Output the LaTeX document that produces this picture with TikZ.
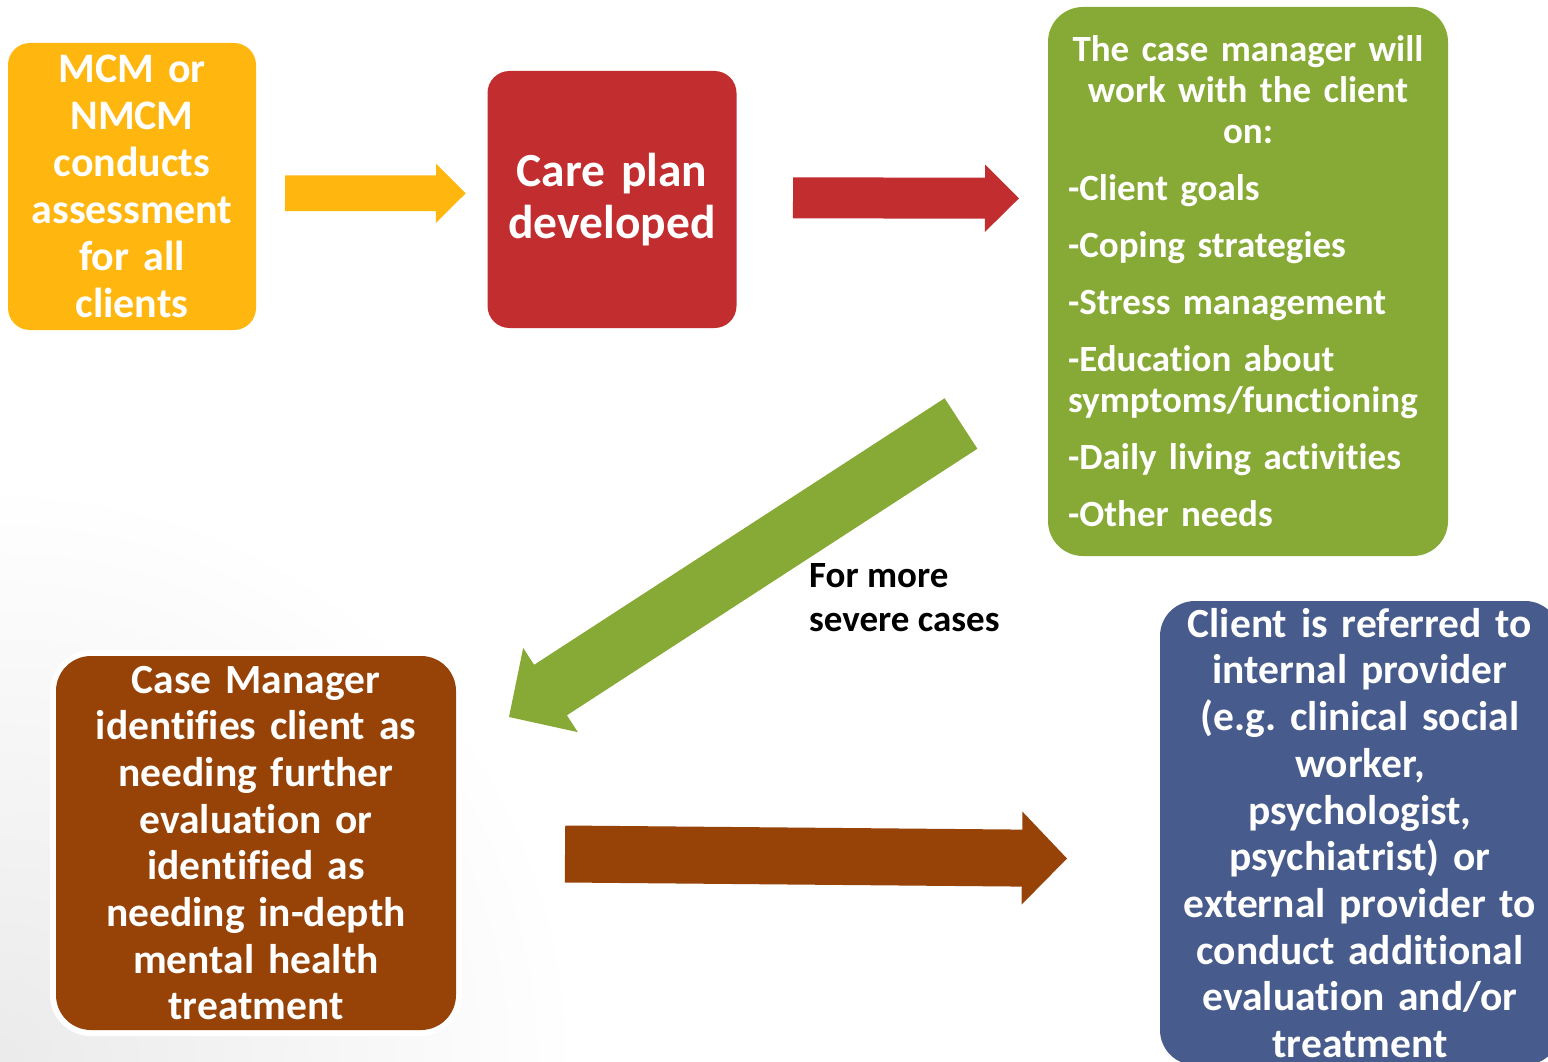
\documentclass[tikz,border=0pt]{standalone}
\usepackage{fontspec}
\setmainfont{Carlito}[Ligatures={NoCommon}]
\usetikzlibrary{calc}

\definecolor{stepyellow}{HTML}{FFB60F}
\definecolor{stepred}{HTML}{C22D2F}
\definecolor{stepgreen}{HTML}{86AA35}
\definecolor{stepbrown}{HTML}{974206}
\definecolor{stepblue}{HTML}{475B8C}

\tikzset{
	stepbox/.style={rounded corners=35pt, inner sep=0pt, text=white, align=center},
	bigtext/.style={font=\bfseries\fontsize{41.5}{46.7}\selectfont},
}

% block arrow: [colour]{tail}{tip}{half shaft}{half head}{head length}
\newcommand{\blockarrow}[6][black]{%
	\coordinate (hb) at ($(#3)!#6!(#2)$);
	\fill[#1] ($(#2)!#4!90:(#3)$) -- ($(hb)!#4!-90:(#2)$) -- ($(hb)!#5!-90:(#2)$) -- (#3)
		-- ($(hb)!#5!90:(#2)$) -- ($(hb)!#4!90:(#2)$) -- ($(#2)!#4!-90:(#3)$) -- cycle;
}

\begin{document}
\frenchspacing
\begin{tikzpicture}[x=1pt,y=-1pt]
	\useasboundingbox (0,0) rectangle (1548,1062);
	\shade[inner color=black!8, outer color=white] (0,1062) circle (580);

	\node[stepbox, rounded corners=22pt, fill=stepyellow, minimum width=248pt, minimum height=287pt, text width=240pt, font=\bfseries\fontsize{42}{47}\selectfont] (assess) at (132,186.5) {MCM or\\NMCM\\conducts\\assessment\\for all\\clients};
	\node[stepbox, rounded corners=22pt, fill=stepred, minimum width=249pt, minimum height=257pt, text width=240pt, font=\bfseries\fontsize{47.5}{52}\selectfont] (plan) at (612,199.5) {Care plan\\developed};
	\node[stepbox, fill=stepgreen, minimum width=400pt, minimum height=549pt, text width=360pt, align=left, font=\bfseries\fontsize{37}{41}\selectfont] (work) at (1248,281.5) {\setlength{\parskip}{16pt}{\centering The case manager will\\work with the client\\on:\par}
		-Client goals\par
		-Coping strategies\par
		-Stress management\par
		-Education about\\symptoms/functioning\par
		-Daily living activities\par
		-Other needs};
	\node[stepbox, bigtext, fill=stepbrown, preaction={draw=white, line width=12pt}, minimum width=400pt, minimum height=374pt, text width=390pt] (needs) at (256,843) {Case Manager\\identifies client as\\needing further\\evaluation or\\identified as\\needing in-depth\\mental health\\treatment};
	\node[stepbox, bigtext, fill=stepblue, minimum width=400pt, minimum height=464pt, text width=390pt] (refer) at (1360,833) {Client is referred to\\internal provider\\(e.g. clinical social\\worker,\\psychologist,\\psychiatrist) or\\external provider to\\conduct additional\\evaluation and/or\\treatment};
	\node[anchor=west, align=left, inner sep=0pt, font=\bfseries\fontsize{37}{44}\selectfont] (severe) at (809,598) {For more\\severe cases};

	\coordinate (yTail) at (285,193.2);
	\coordinate (yTip) at (465.7,193.3);
	\coordinate (rTail) at (793,197.8);
	\coordinate (rTip) at (1019,198.3);
	\coordinate (gTail) at (961,423.5);
	\coordinate (gTip) at (509,717);
	\coordinate (bTail) at (565,854);
	\coordinate (bTip) at (1067,858.5);
	\blockarrow[stepyellow]{yTail}{yTip}{17.8pt}{29.7pt}{29.7pt}
	\blockarrow[stepred]{rTail}{rTip}{20.5pt}{33.7pt}{34pt}
	\blockarrow[stepgreen]{gTail}{gTip}{30.1pt}{50.2pt}{49.5pt}
	\blockarrow[stepbrown]{bTail}{bTip}{28.5pt}{46.5pt}{45pt}
\end{tikzpicture}
\end{document}
